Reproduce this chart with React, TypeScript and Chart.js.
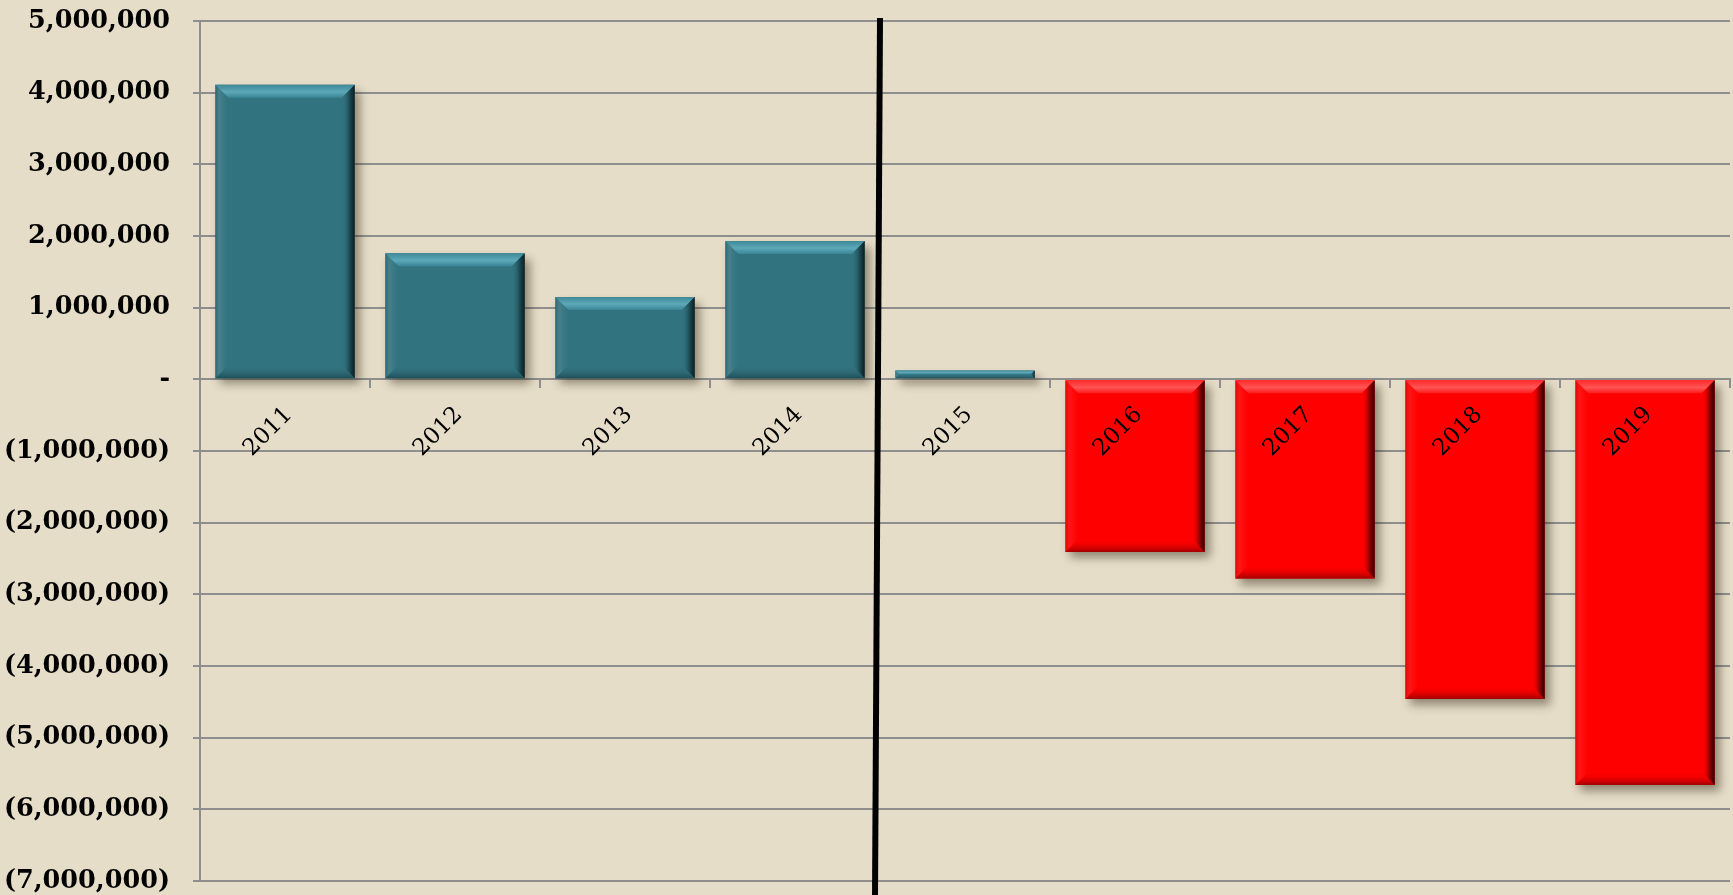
import React, { useEffect, useRef } from 'react';
import { Chart, registerables } from 'chart.js';

Chart.register(...registerables);

const years: string[] = ['2011', '2012', '2013', '2014', '2015', '2016', '2017', '2018', '2019'];
const netValues: number[] = [4110000, 1760000, 1150000, 1930000, 125000, -2410000, -2780000, -4460000, -5660000];
const yMin = -7000000;
const yMax = 5000000;
const yStep = 1000000;
const dividerAfterIndex = 3; // line between 2014 and 2015

const BG = '#E6DDC8';
const GRID = '#8e8e8e';
const TEAL = '#31737f';
const RED = '#ff0000';

const fmt = (v: number): string => {
  if (v === 0) return '-';
  const s = Math.abs(v).toLocaleString('en-US');
  return v < 0 ? '(' + s + ')' : s;
};

const bgPlugin = {
  id: 'bgFill',
  beforeDraw(chart: any) {
    const ctx = chart.ctx;
    ctx.save();
    ctx.fillStyle = BG;
    ctx.fillRect(0, 0, chart.width, chart.height);
    ctx.restore();
  },
};

const shadowPlugin = {
  id: 'barShadow',
  beforeDatasetsDraw(chart: any) {
    const ctx = chart.ctx;
    ctx.save();
    ctx.shadowColor = 'rgba(40,30,10,0.45)';
    ctx.shadowBlur = 9;
    ctx.shadowOffsetX = 5;
    ctx.shadowOffsetY = 6;
  },
  afterDatasetsDraw(chart: any) {
    const ctx = chart.ctx;
    ctx.restore();
    const meta = chart.getDatasetMeta(0);
    meta.data.forEach((bar: any, i: number) => {
      const v = netValues[i];
      const pos = v >= 0;
      const L = bar.x - bar.width / 2;
      const R = bar.x + bar.width / 2;
      const T = Math.min(bar.y, bar.base);
      const B = Math.max(bar.y, bar.base);
      const h = B - T;
      const b = Math.min(13, h / 2, (R - L) / 2);
      const light = pos ? '#5ea9b9' : '#ff5555';
      const lightEdge = pos ? '#3e8896' : '#ff2a2a';
      const leftC = pos ? 'rgba(20,60,70,0.35)' : 'rgba(120,0,0,0.25)';
      const darkEdge = pos ? '#0b1c20' : '#2a0000';
      const bottomC = pos ? '#1f4f58' : '#a00000';
      ctx.save();
      let g = ctx.createLinearGradient(0, T, 0, T + b);
      g.addColorStop(0, lightEdge);
      g.addColorStop(0.55, light);
      g.addColorStop(1, pos ? '#3a8595' : '#ff1a1a');
      ctx.fillStyle = g;
      ctx.beginPath();
      ctx.moveTo(L, T); ctx.lineTo(R, T); ctx.lineTo(R - b, T + b); ctx.lineTo(L + b, T + b); ctx.closePath();
      ctx.fill();
      g = ctx.createLinearGradient(L, 0, L + b, 0);
      g.addColorStop(0, leftC);
      g.addColorStop(0.5, 'rgba(255,255,255,0.06)');
      g.addColorStop(1, 'rgba(255,255,255,0)');
      ctx.fillStyle = g;
      ctx.beginPath();
      ctx.moveTo(L, T); ctx.lineTo(L + b, T + b); ctx.lineTo(L + b, B - b); ctx.lineTo(L, B); ctx.closePath();
      ctx.fill();
      g = ctx.createLinearGradient(0, B - b, 0, B);
      g.addColorStop(0, pos ? 'rgba(49,115,127,0)' : 'rgba(255,0,0,0)');
      g.addColorStop(1, bottomC);
      ctx.fillStyle = g;
      ctx.beginPath();
      ctx.moveTo(L, B); ctx.lineTo(R, B); ctx.lineTo(R - b, B - b); ctx.lineTo(L + b, B - b); ctx.closePath();
      ctx.fill();
      g = ctx.createLinearGradient(R - b, 0, R, 0);
      g.addColorStop(0, pos ? 'rgba(49,115,127,0)' : 'rgba(255,0,0,0)');
      g.addColorStop(0.6, pos ? '#1c4a53' : '#900000');
      g.addColorStop(1, darkEdge);
      ctx.fillStyle = g;
      ctx.beginPath();
      ctx.moveTo(R, T); ctx.lineTo(R, B); ctx.lineTo(R - b, B - b); ctx.lineTo(R - b, T + b); ctx.closePath();
      ctx.fill();
      ctx.restore();
    });
  },
};

const dividerPlugin = {
  id: 'divider',
  afterDraw(chart: any) {
    const ctx = chart.ctx;
    const xs = chart.scales.x;
    const xb = (xs.getPixelForValue(dividerAfterIndex) + xs.getPixelForValue(dividerAfterIndex + 1)) / 2;
    ctx.save();
    ctx.strokeStyle = '#000000';
    ctx.lineWidth = 6;
    ctx.beginPath();
    ctx.moveTo(xb, chart.chartArea.top - 3);
    ctx.lineTo(xb - 5, chart.height + 2);
    ctx.stroke();
    ctx.restore();
  },
};

export default function App() {
  const ref = useRef<HTMLCanvasElement | null>(null);

  useEffect(() => {
    if (!ref.current) return;
    const chart = new Chart(ref.current, {
      type: 'bar',
      data: {
        labels: years,
        datasets: [
          {
            data: netValues,
            backgroundColor: netValues.map((v) => (v >= 0 ? TEAL : RED)),
            borderWidth: 0,
            barPercentage: 0.82,
            categoryPercentage: 1,
          },
        ],
      },
      options: {
        animation: false,
        responsive: false,
        events: [],
        layout: { padding: { top: 21, bottom: 14, left: 0, right: 3 } },
        plugins: { legend: { display: false }, tooltip: { enabled: false } },
        scales: {
          x: {
            position: { y: 0 } as any,
            afterFit: (s: any) => { s.height = 0; s.paddingLeft = 0; s.paddingRight = 0; },
            grid: { drawOnChartArea: false, drawTicks: true, tickLength: 8, color: GRID, lineWidth: 2, offset: true },
            border: { display: true, color: GRID, width: 2 },
            ticks: {
              z: 1,
              autoSkip: false,
              minRotation: 45,
              maxRotation: 45,
              padding: 14,
              labelOffset: 4,
              color: '#000000',
              font: { family: 'DejaVu Serif', size: 23, weight: 'normal' },
            },
          },
          y: {
            min: yMin,
            max: yMax,
            afterFit: (s: any) => { s.width = 200; s.paddingTop = 0; s.paddingBottom = 0; },
            grid: { color: GRID, lineWidth: 2, drawTicks: true, tickLength: 7 },
            border: { display: true, color: GRID, width: 2 },
            ticks: {
              stepSize: yStep,
              padding: 23,
              color: '#000000',
              font: { family: 'DejaVu Serif', size: 25.5, weight: 'bold', lineHeight: 1.0 },
              callback: (v: any) => fmt(Number(v)),
            },
          },
        },
      },
      plugins: [bgPlugin, shadowPlugin, dividerPlugin],
    });
    return () => chart.destroy();
  }, []);

  return (
    <div style={{ position: 'absolute', left: 0, top: 0, width: 1733, height: 895, background: BG }}>
      <canvas ref={ref} width={1733} height={895} />
    </div>
  );
}
